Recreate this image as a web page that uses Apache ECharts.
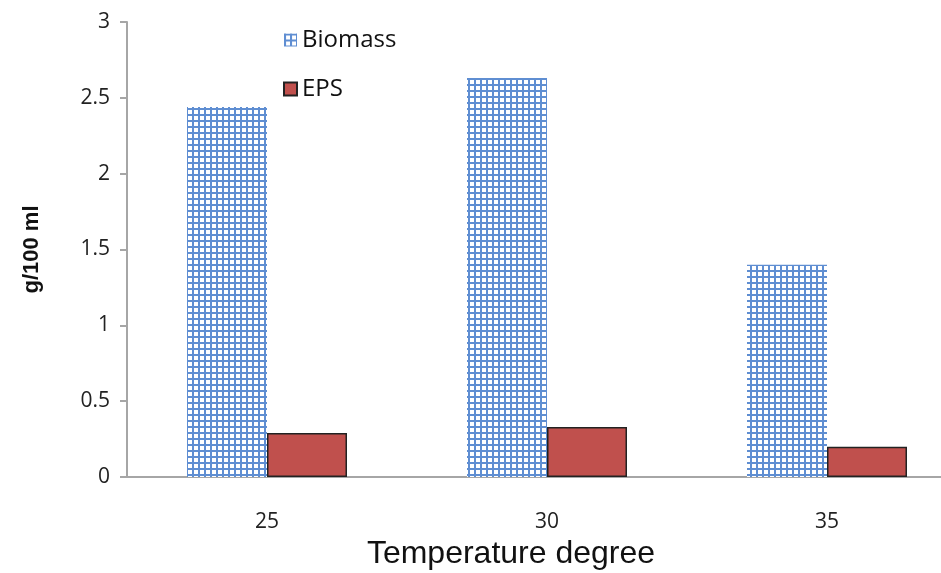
<!DOCTYPE html>
<html><head><meta charset="utf-8">
<script src="https://cdn.jsdelivr.net/npm/echarts@6/dist/echarts.min.js"></script>
<style>html,body{margin:0;padding:0;background:#fff}#c{width:941px;height:573px}</style>
</head><body><div id="c"></div>
<script>
const categories = ['25', '30', '35'];
const biomass = [2.44, 2.63, 1.40];
const eps = [0.29, 0.33, 0.20];
const yTicks = [0, 0.5, 1, 1.5, 2, 2.5, 3];

function gridPattern() {
  const c = document.createElement('canvas');
  c.width = 6; c.height = 6;
  const g = c.getContext('2d');
  g.fillStyle = '#ffffff'; g.fillRect(0, 0, 6, 6);
  g.fillStyle = '#5f8ed2';
  g.fillRect(0, 0, 2, 6);
  g.fillRect(0, 0, 6, 2);
  return c;
}
const pat = gridPattern();

const chart = echarts.init(document.getElementById('c'));
chart.setOption({
  animation: false,
  grid: { left: 127, top: 22, bottom: 96, width: 840, outerBoundsMode: 'none', containLabel: false },
  legend: {
    orient: 'vertical', left: 278, top: 23, itemGap: 25,
    itemWidth: 13, itemHeight: 13, icon: 'rect',
    textStyle: { fontSize: 24, color: '#111', fontFamily: 'Open Sans' },
    data: [
      { name: 'Biomass', itemStyle: { color: { image: pat, repeat: 'repeat' }, borderWidth: 0 } },
      { name: 'EPS' }
    ]
  },
  xAxis: {
    type: 'category', data: categories,
    name: 'Temperature degree', nameLocation: 'middle', nameGap: 59,
    nameTextStyle: { fontSize: 32, color: '#111', fontFamily: 'Liberation Sans', padding: [0, 72, 0, 0] },
    axisLine: { lineStyle: { color: '#a6a6a6', width: 2 } },
    axisTick: { show: false },
    axisLabel: { fontSize: 21, color: '#222', margin: 35, fontFamily: 'Open Sans' }
  },
  yAxis: {
    type: 'value', min: 0, max: 3, interval: 0.5,
    name: 'g/100 ml', nameLocation: 'middle', nameGap: 84, nameRotate: 90,
    nameTextStyle: { fontSize: 22, fontWeight: 'bold', color: '#111', fontFamily: 'Liberation Sans' },
    axisLine: { show: true, lineStyle: { color: '#a6a6a6', width: 2 } },
    axisTick: { show: true, length: 7, lineStyle: { color: '#a6a6a6', width: 2 } },
    splitLine: { show: false },
    axisLabel: { fontSize: 21, color: '#222', margin: 17, fontFamily: 'Open Sans',
      formatter: v => yTicks.includes(v) ? String(v) : '' }
  },
  series: [
    { name: 'Biomass', type: 'bar', data: biomass, barWidth: 80, barGap: '0%',
      itemStyle: { color: { image: pat, repeat: 'repeat' } } },
    { name: 'EPS', type: 'bar', data: eps, barWidth: 80,
      itemStyle: { color: '#c0504d', borderColor: '#222', borderWidth: 1.5 } }
  ]
});
</script></body></html>
